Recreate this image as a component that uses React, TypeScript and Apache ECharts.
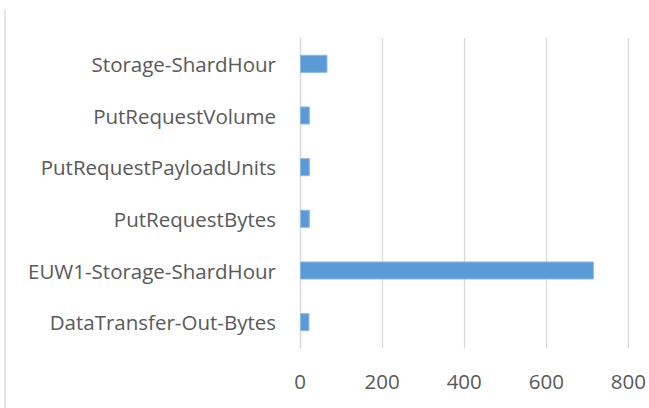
import React, { useEffect, useRef } from "react";
import * as echarts from "echarts";

const categories = [
  "DataTransfer-Out-Bytes",
  "EUW1-Storage-ShardHour",
  "PutRequestBytes",
  "PutRequestPayloadUnits",
  "PutRequestVolume",
  "Storage-ShardHour",
];
const values = [23, 716, 24, 24, 24, 67];
const xMin = 0;
const xMax = 800;
const xInterval = 200;

export default function App() {
  const ref = useRef<HTMLDivElement>(null);
  useEffect(() => {
    document.body.style.margin = "0";
    const chart = echarts.init(ref.current!, null, { renderer: "svg" });
    chart.setOption({
      animation: false,
      backgroundColor: "#ffffff",
      textStyle: { fontFamily: "Open Sans" },
      grid: { left: 300, right: 20, top: 38, bottom: 60, containLabel: false },
      xAxis: {
        type: "value",
        min: xMin,
        max: xMax,
        interval: xInterval,
        axisLine: { show: false },
        axisTick: { show: false },
        splitLine: { show: true, lineStyle: { color: "#d9d9d9", width: 1.3 } },
        axisLabel: {
          color: "#595959",
          fontSize: 20.5,
          fontFamily: "Open Sans",
          margin: 23,
          lineHeight: 20,
        },
      },
      yAxis: {
        type: "category",
        data: categories,
        axisLine: { show: true, lineStyle: { color: "#d9d9d9", width: 1.3 } },
        axisTick: { show: false },
        splitLine: { show: false },
        axisLabel: {
          color: "#595959",
          fontSize: 20.5,
          fontFamily: "Open Sans",
          margin: 24,
        },
      },
      series: [
        {
          type: "bar",
          data: values,
          barWidth: "35%",
          itemStyle: { color: "#5b9bd5", borderColor: "#8dbbe6", borderWidth: 1 },
        },
      ],
      graphic: [
        {
          type: "line",
          shape: { x1: 5, y1: 10, x2: 5, y2: 408 },
          style: { stroke: "#d9d9d9", lineWidth: 1.3 },
        },
      ],
    });
    return () => chart.dispose();
  }, []);
  return <div ref={ref} style={{ width: 649, height: 408 }} />;
}
